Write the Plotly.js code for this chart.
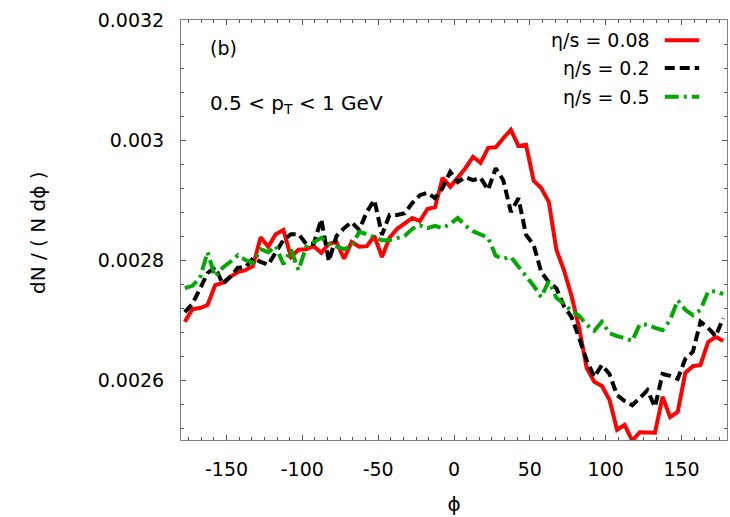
<!DOCTYPE html>
<html>
<head>
<meta charset="utf-8">
<script src="https://cdn.plot.ly/plotly-3.0.1.min.js"></script>
<style>html,body{margin:0;padding:0;background:#fff;}#plot{width:730px;height:517px;}</style>
</head>
<body>
<div id="plot"></div>
<script>
// azimuthal angle bin centres (degrees)
const phi = [-177.5,-172.5,-167.5,-162.5,-157.5,-152.5,-147.5,-142.5,-137.5,-132.5,
  -127.5,-122.5,-117.5,-112.5,-107.5,-102.5,-97.5,-92.5,-87.5,-82.5,
  -77.5,-72.5,-67.5,-62.5,-57.5,-52.5,-47.5,-42.5,-37.5,-32.5,
  -27.5,-22.5,-17.5,-12.5,-7.5,-2.5,2.5,7.5,12.5,17.5,
  22.5,27.5,32.5,37.5,42.5,47.5,52.5,57.5,62.5,67.5,
  72.5,77.5,82.5,87.5,92.5,97.5,102.5,107.5,112.5,117.5,
  122.5,127.5,132.5,137.5,142.5,147.5,152.5,157.5,162.5,167.5,
  172.5,177.5];

// eta/s = 0.08
const dN_008 = [0.002697,0.002718,0.00272,0.002725,0.002758,0.002762,0.002772,0.00278,0.002783,0.00279,
  0.002838,0.002822,0.002843,0.00285,0.002805,0.002817,0.002818,0.002823,0.002812,0.002827,
  0.00283,0.002802,0.00283,0.002822,0.002823,0.00284,0.002805,0.002837,0.002852,0.002862,
  0.00287,0.002865,0.002885,0.002888,0.002937,0.002922,0.002938,0.002953,0.002972,0.002962,
  0.002987,0.002988,0.003003,0.003017,0.00299,0.002992,0.002932,0.00292,0.002897,0.002817,
  0.002783,0.00274,0.002687,0.00262,0.002597,0.00259,0.002567,0.002517,0.002525,0.002499,
  0.002513,0.002512,0.002512,0.002572,0.002538,0.002547,0.002612,0.002623,0.002625,0.002663,
  0.002672,0.002665];

// eta/s = 0.2
const dN_02 = [0.002713,0.002727,0.002752,0.002778,0.002788,0.00276,0.002772,0.002787,0.002788,0.002803,
  0.002797,0.002792,0.002813,0.002833,0.002843,0.002843,0.002827,0.002827,0.002868,0.002798,
  0.00284,0.002853,0.002863,0.00285,0.00288,0.0029,0.002842,0.002875,0.002875,0.002878,
  0.002895,0.002908,0.002912,0.002903,0.00292,0.002947,0.00293,0.002938,0.002933,0.002937,
  0.002917,0.002953,0.002933,0.00288,0.002903,0.002842,0.002825,0.00278,0.002763,0.002753,
  0.002723,0.002705,0.00267,0.002633,0.002605,0.002625,0.00261,0.002575,0.002565,0.002558,
  0.00257,0.002583,0.002555,0.00261,0.002607,0.002602,0.002635,0.002647,0.002697,0.002687,
  0.002673,0.002703];

// eta/s = 0.5
const dN_05 = [0.002753,0.002757,0.00277,0.002813,0.002772,0.002787,0.002797,0.002808,0.0028,0.002795,
  0.002818,0.002813,0.002823,0.002793,0.002817,0.002783,0.002822,0.00283,0.002837,0.002827,
  0.002822,0.002818,0.002823,0.002847,0.002843,0.002838,0.002833,0.002833,0.002837,0.00284,
  0.002852,0.002858,0.002853,0.002857,0.002853,0.00286,0.00287,0.002857,0.002848,0.002842,
  0.002837,0.002807,0.002802,0.002805,0.002788,0.002773,0.002757,0.002738,0.002765,0.002737,
  0.002727,0.002715,0.002707,0.002692,0.002682,0.002697,0.002678,0.002673,0.00267,0.002665,
  0.002693,0.002692,0.002687,0.002683,0.0027,0.002733,0.002717,0.002708,0.002717,0.002747,
  0.002748,0.002743];

const seriesNames = ['η/s = 0.08', 'η/s = 0.2', 'η/s = 0.5'];
const xTickVals = [-150, -100, -50, 0, 50, 100, 150];
const xTickText = ['-150', '-100', '-50', '0', '50', '100', '150'];
const yTickVals = [0.0026, 0.0028, 0.003, 0.0032];
const yTickText = ['0.0026', '0.0028', '0.003', '0.0032'];

const FONT = 'DejaVu Sans, Liberation Sans, Arial, sans-serif';
const colors = ['#ff0000', '#000000', '#00a800'];
const dashes = ['solid', '10px,5px', '14px,5px,3px,5px'];
const ys = [dN_008, dN_02, dN_05];

const traces = ys.map((y, i) => ({
  x: phi, y: y, type: 'scatter', mode: 'lines', name: seriesNames[i],
  line: {color: colors[i], width: 4, dash: dashes[i]},
  showlegend: false, hoverinfo: 'skip'
}));

// legend drawn gnuplot-style: text on the left, sample on the right
const legY = [0.952, 0.886, 0.817];
const annotations = seriesNames.map((n, i) => ({
  text: n, xref: 'paper', yref: 'paper', x: 0.862, y: legY[i],
  xanchor: 'right', yanchor: 'middle', showarrow: false,
  font: {family: FONT, size: 19, color: '#000'}
}));
annotations.push({text: '(b)', xref: 'paper', yref: 'paper', x: 0.05, y: 0.933,
  xanchor: 'left', yanchor: 'middle', showarrow: false, font: {family: FONT, size: 19, color: '#000'}});
annotations.push({text: '0.5 &lt; p<sub>T</sub> &lt; 1 GeV', xref: 'paper', yref: 'paper', x: 0.05, y: 0.80,
  xanchor: 'left', yanchor: 'middle', showarrow: false, font: {family: FONT, size: 20, color: '#000'}});
// y-axis title placed exactly where the reference has it
annotations.push({text: 'dN / ( N dϕ )', xref: 'paper', yref: 'paper', x: -0.262, y: 0.495,
  xanchor: 'center', yanchor: 'middle', textangle: -90, showarrow: false,
  font: {family: FONT, size: 20, color: '#000'}});

const shapes = seriesNames.map((n, i) => ({
  type: 'line', xref: 'paper', yref: 'paper', x0: 0.886, x1: 0.949, y0: legY[i], y1: legY[i],
  line: {color: colors[i], width: 4, dash: dashes[i]}
}));

const axisCommon = {
  showline: true, linecolor: '#7f7f7f', linewidth: 1, mirror: 'allticks',
  ticks: 'inside', ticklen: 5, tickwidth: 1, tickcolor: '#555',
  showgrid: false, zeroline: false,
  tickfont: {family: FONT, size: 19, color: '#000'}
};

const layout = {
  width: 730, height: 517,
  margin: {l: 181, r: 3, t: 20, b: 77},
  paper_bgcolor: '#fff', plot_bgcolor: '#fff',
  showlegend: false,
  xaxis: Object.assign({}, axisCommon, {
    range: [-180, 180], tickvals: xTickVals, ticktext: xTickText,
    ticklabelstandoff: 12,
    minor: {dtick: 50/6, tick0: 0, ticks: 'inside', ticklen: 3, tickcolor: '#555', showgrid: false},
    title: {text: 'ϕ', standoff: 18, font: {family: FONT, size: 20, color: '#000'}}
  }),
  yaxis: Object.assign({}, axisCommon, {
    range: [0.0025, 0.0032], tickvals: yTickVals, ticktext: yTickText,
    ticklabelstandoff: 12,
    minor: {dtick: 0.00004, tick0: 0.0026, ticks: 'inside', ticklen: 3, tickcolor: '#555', showgrid: false}
  }),
  annotations: annotations,
  shapes: shapes
};

Plotly.newPlot('plot', traces, layout, {displayModeBar: false, staticPlot: true});
</script>
</body>
</html>
